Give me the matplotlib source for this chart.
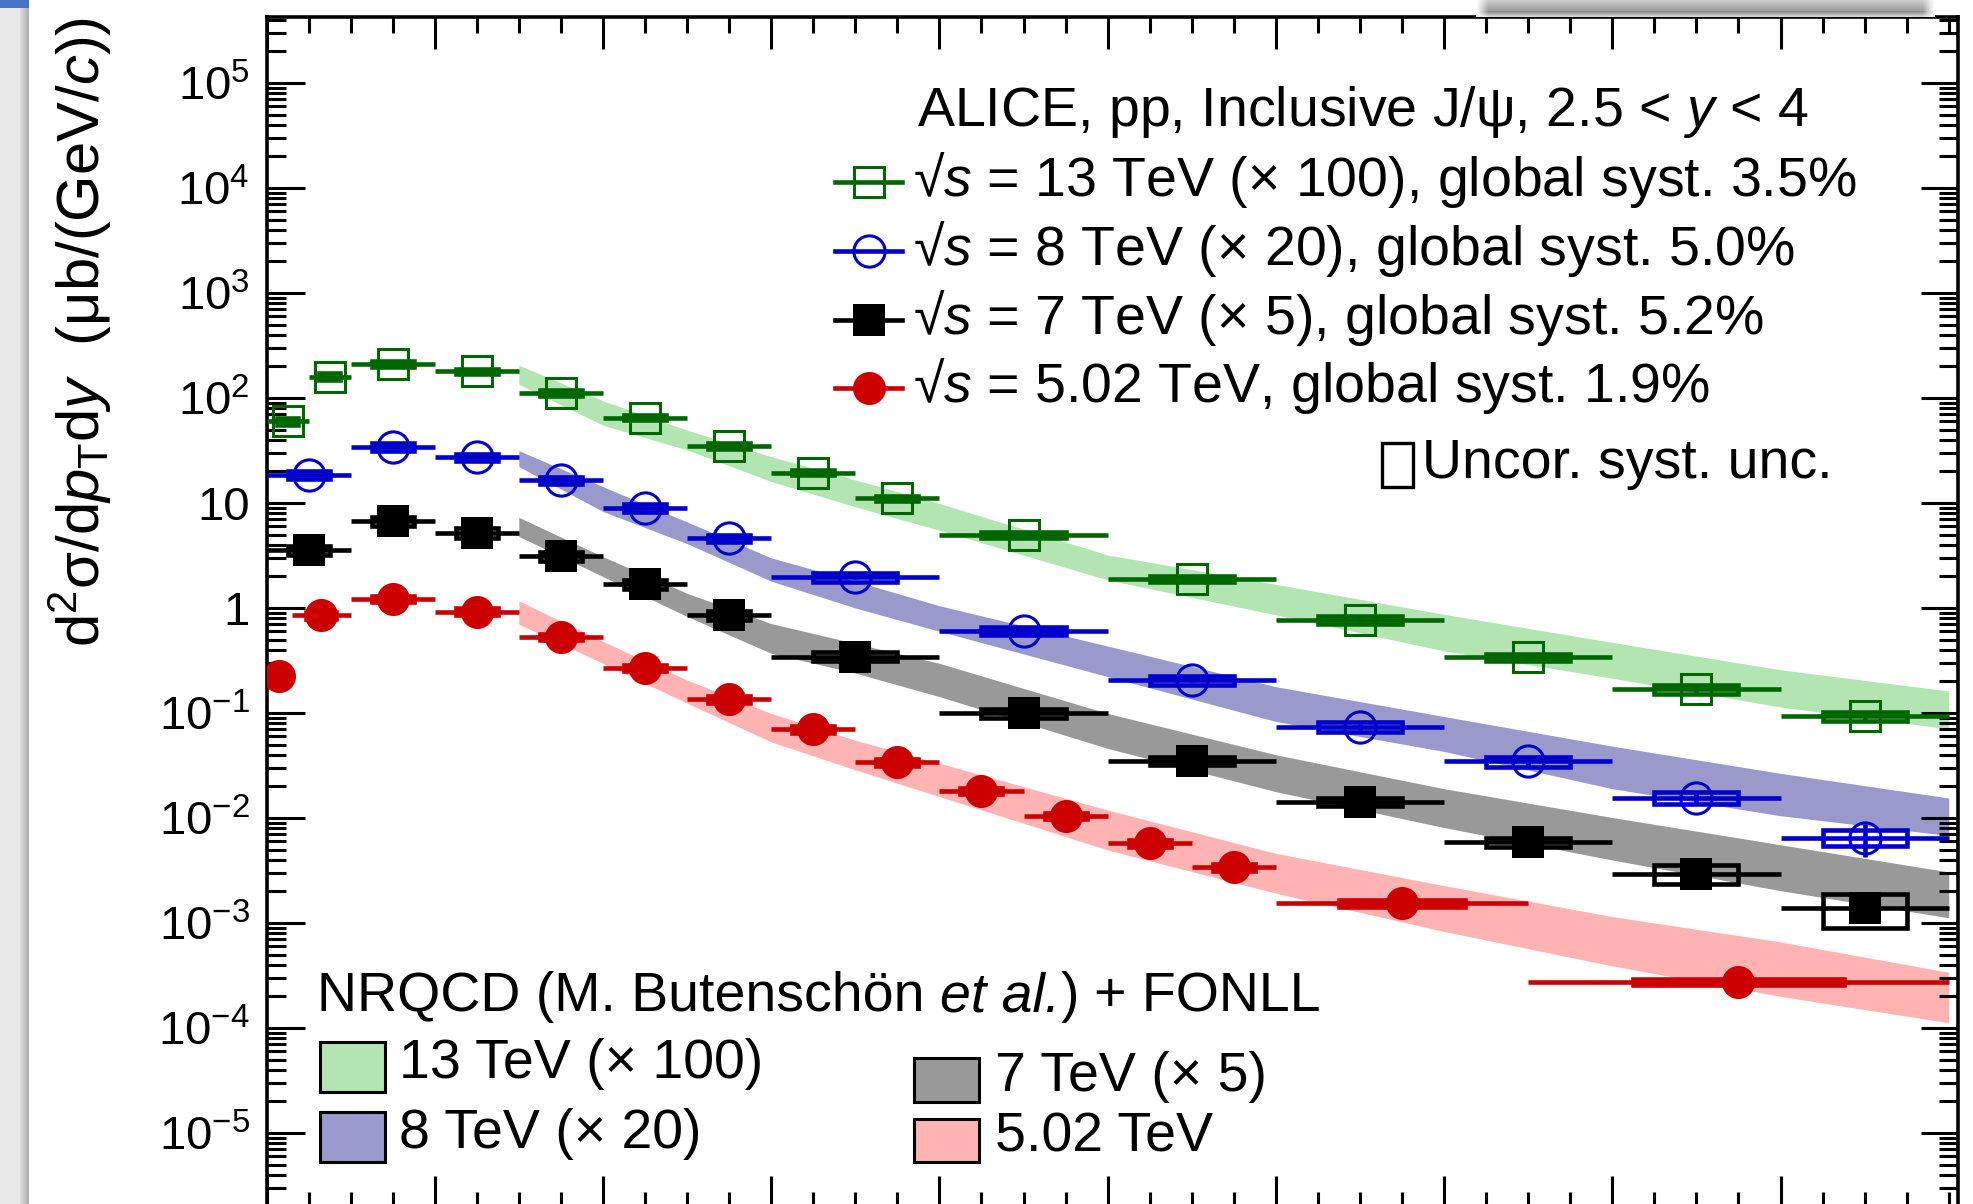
import numpy as np
import matplotlib
matplotlib.use("Agg")
import matplotlib.pyplot as plt
from matplotlib.lines import Line2D
from matplotlib.patches import Rectangle
from matplotlib.ticker import FixedLocator, FuncFormatter, LogLocator, NullFormatter

plt.rcParams['font.family'] = ['Liberation Sans', 'DejaVu Sans']
plt.rcParams['mathtext.fontset'] = 'custom'
plt.rcParams['mathtext.rm'] = 'Liberation Sans'
plt.rcParams['mathtext.it'] = 'Liberation Sans:italic'
plt.rcParams['mathtext.bf'] = 'Liberation Sans:bold'
plt.rcParams['mathtext.fallback'] = 'stixsans'

W, H = 1973, 1204

# 13 TeV (x100)
pt13_lo = [0, 0.5, 1, 2, 3, 4, 5, 6, 7, 8, 10, 12, 14, 16, 18]
pt13_hi = [0.5, 1, 2, 3, 4, 5, 6, 7, 8, 10, 12, 14, 16, 18, 20]
xs13 = [60, 160, 210, 180, 112, 65, 35, 19.5, 11.1, 4.95, 1.89, 0.77, 0.34, 0.168, 0.093]
syst13 = [0.07, 0.07, 0.06, 0.06, 0.06, 0.05, 0.06, 0.06, 0.06, 0.07, 0.07, 0.08, 0.08, 0.09, 0.09]
stat13 = [0.02, 0.02, 0.01, 0.01, 0.01, 0.01, 0.02, 0.02, 0.02, 0.03, 0.04, 0.05, 0.06, 0.07, 0.08]

# 8 TeV (x20)
pt8_lo = [0, 1, 2, 3, 4, 5, 6, 8, 10, 12, 14, 16, 18]
pt8_hi = [1, 2, 3, 4, 5, 6, 8, 10, 12, 14, 16, 18, 20]
xs8 = [18.6, 34.4, 27.2, 16.5, 9.0, 4.61, 1.96, 0.604, 0.206, 0.074, 0.0345, 0.0156, 0.0065]
syst8 = [0.09, 0.09, 0.08, 0.08, 0.08, 0.08, 0.09, 0.09, 0.10, 0.11, 0.11, 0.13, 0.17]
stat8 = [0.02, 0.01, 0.01, 0.01, 0.02, 0.02, 0.03, 0.04, 0.05, 0.07, 0.09, 0.12, 0.35]

# 7 TeV (x5)
pt7_lo = [0, 1, 2, 3, 4, 5, 6, 8, 10, 12, 14, 16, 18]
pt7_hi = [1, 2, 3, 4, 5, 6, 8, 10, 12, 14, 16, 18, 20]
xs7 = [3.57, 6.71, 5.21, 3.1, 1.68, 0.857, 0.344, 0.0993, 0.0349, 0.0143, 0.0059, 0.00295, 0.0014]
syst7 = [0.10, 0.10, 0.10, 0.10, 0.10, 0.10, 0.10, 0.09, 0.09, 0.09, 0.10, 0.20, 0.36]
stat7 = [0.03, 0.02, 0.02, 0.02, 0.03, 0.04, 0.05, 0.08, 0.10, 0.12, 0.15, 0.20, 0.25]

# 5.02 TeV
pt5_lo = [0, 0.3, 1, 2, 3, 4, 5, 6, 7, 8, 9, 10, 11, 12, 15]
pt5_hi = [0.3, 1, 2, 3, 4, 5, 6, 7, 8, 9, 10, 11, 12, 15, 20]
xs5 = [0.225, 0.849, 1.22, 0.925, 0.533, 0.27, 0.135, 0.07, 0.0339, 0.0181, 0.0105,
       0.00574, 0.00339, 0.00154, 0.000275]
syst5 = [0.07, 0.07, 0.07, 0.07, 0.07, 0.07, 0.07, 0.07, 0.07, 0.07, 0.07, 0.07, 0.07, 0.07, 0.06]
stat5 = [0.03, 0.01, 0.01, 0.01, 0.01, 0.01, 0.02, 0.02, 0.03, 0.04, 0.05, 0.06, 0.08, 0.08, 0.12]

# NRQCD + FONLL bands
band_pt = [3, 4, 5, 6, 7, 8, 10, 12, 14, 16, 18, 20]
band13_hi = [206, 94, 49.5, 27.6, 16.6, 9.9, 3.2, 1.68, 0.87, 0.47, 0.258, 0.162]
band13_lo = [135, 55, 32, 16, 9.2, 5.5, 1.85, 0.86, 0.39, 0.214, 0.114, 0.0705]
band8_hi = [31.5, 14.3, 6.6, 3.0, 1.8, 1.05, 0.434, 0.178, 0.0925, 0.0483, 0.0266, 0.0155]
band8_lo = [22.2, 8.3, 4.1, 1.8, 1.0, 0.6, 0.222, 0.083, 0.043, 0.019, 0.0105, 0.0068]
band7_hi = [7.3, 3.08, 1.38, 0.71, 0.46, 0.297, 0.099, 0.04, 0.019, 0.0101, 0.00556, 0.00306]
band7_lo = [4.8, 1.99, 0.83, 0.37, 0.24, 0.143, 0.046, 0.0178, 0.0081, 0.00398, 0.00203, 0.00112]
band5_hi = [1.17, 0.48, 0.206, 0.099, 0.055, 0.0332, 0.0119, 0.0046, 0.00227, 0.00115, 0.00066, 0.000339]
band5_lo = [0.70, 0.297, 0.124, 0.053, 0.0287, 0.016, 0.00496, 0.00192, 0.00083, 0.00039, 0.0002, 0.000112]

legend_rows = [
    r"√$s$ = 13 TeV (× 100), global syst. 3.5%",
    r"√$s$ = 8 TeV (× 20), global syst. 5.0%",
    r"√$s$ = 7 TeV (× 5), global syst. 5.2%",
    r"√$s$ = 5.02 TeV, global syst. 1.9%",
]
band_labels = ["13 TeV (× 100)", "8 TeV (× 20)", "7 TeV (× 5)", "5.02 TeV"]

GREEN, BLUE, BLACK, RED = '#006600', '#0000cc', '#000000', '#cc0000'
BAND_COLORS = ['#b3e5b3', '#9999cc', '#999999', '#ffb3b3']

series = [
    (pt13_lo, pt13_hi, xs13, syst13, stat13, GREEN, 's', 'none', 22.0),
    (pt8_lo, pt8_hi, xs8, syst8, stat8, BLUE, 'o', 'none', 22.5),
    (pt7_lo, pt7_hi, xs7, syst7, stat7, BLACK, 's', BLACK, 23.5),
    (pt5_lo, pt5_hi, xs5, syst5, stat5, RED, 'o', RED, 23.8),
]
bands = [(band13_lo, band13_hi), (band8_lo, band8_hi), (band7_lo, band7_hi), (band5_lo, band5_hi)]


def fx(px):
    return px / W


def fy(py):
    return 1 - py / H


fig = plt.figure(figsize=(W / 100, H / 100), dpi=100)
ax = fig.add_axes([fx(266.5), fy(1207.5), (1958 - 266.5) / W, (1207.5 - 17) / H])
ax.set_yscale('log')
ax.set_xlim(0, 20.11)
ax.set_ylim(1.95e-6, 4.25e5)

for (lo, hi), col in zip(bands, BAND_COLORS):
    ax.fill_between(band_pt, lo, hi, color=col, lw=0, zorder=1)

LW = 3.3
for lo, hi, y, syst, stat, col, mk, face, ms in series:
    lo = np.array(lo, float)
    hi = np.array(hi, float)
    y = np.array(y, float)
    xc = (lo + hi) / 2
    ax.hlines(y, lo, hi, color=col, lw=LW, zorder=3)
    ax.vlines(xc, y * (1 - np.array(stat)), y * (1 + np.array(stat)), color=col, lw=LW, zorder=3)
    for xi, wi, yi, si in zip(xc, hi - lo, y, syst):
        ax.add_patch(Rectangle((xi - wi / 4, yi * (1 - si)), wi / 2, yi * 2 * si,
                               fill=False, edgecolor=col, lw=LW, zorder=4))
    if face == 'none':
        ax.plot(xc, y, ls='none', marker=mk, ms=ms, mfc='none', mec=col, mew=2.2, zorder=5)
    else:
        ax.plot(xc, y, ls='none', marker=mk, ms=ms, mfc=face, mec=face, mew=0, zorder=5)

# axes styling
for sp in ax.spines.values():
    sp.set_linewidth(2.6)
ax.tick_params(which='both', direction='in', top=True, right=True, width=2.2)
ax.tick_params(axis='y', which='major', length=27, pad=12, labelsize=34)
ax.tick_params(axis='y', which='minor', length=13.5)
ax.tick_params(axis='x', which='major', length=23, labelbottom=False)
ax.tick_params(axis='x', which='minor', length=11.5)
ax.xaxis.set_major_locator(FixedLocator(np.arange(0, 19, 2)))
ax.xaxis.set_minor_locator(FixedLocator([v for v in np.arange(0.5, 20.01, 0.5) if v % 2 or v > 19]))
ax.yaxis.set_major_locator(FixedLocator([10.0 ** k for k in range(-5, 6)]))
ax.yaxis.set_minor_locator(LogLocator(base=10, subs=np.arange(2, 10), numticks=30))
ax.yaxis.set_minor_formatter(NullFormatter())


def ylab(v, pos):
    k = int(round(np.log10(v)))
    if k == 0:
        return '1'
    if k == 1:
        return '10'
    return r'$10^{%d}$' % k


ax.yaxis.set_major_formatter(FuncFormatter(ylab))

fig.text(fx(100), fy(17), r"d$^{2}$σ/d$p_{\mathrm{T}}$d$y$  (μb/(GeV/$c$))", fontsize=43,
         rotation=90, rotation_mode='anchor', ha='right', va='baseline')

# data legend
FS = 40
fig.text(fx(917), fy(126), r"ALICE, pp, Inclusive J/ψ, 2.5 < $y$ < 4", fontsize=FS, va='baseline')
row_y = [182, 251, 320, 388]
for (lo, hi, y, syst, stat, col, mk, face, ms), ry, label in zip(series, row_y, legend_rows):
    fig.add_artist(Line2D([fx(835), fx(902)], [fy(ry), fy(ry)], color=col, lw=LW))
    if face == 'none':
        fig.add_artist(Line2D([fx(869)], [fy(ry)], ls='none', marker=mk, ms=ms, mfc='none',
                              mec=col, mew=2.2))
    else:
        fig.add_artist(Line2D([fx(869)], [fy(ry)], ls='none', marker=mk, ms=ms, mfc=face,
                              mec=face, mew=0))
    fig.text(fx(913), fy(ry + 14), label, fontsize=FS, va='baseline')

fig.add_artist(Rectangle((fx(1382), fy(487)), (1413 - 1382) / W, (487 - 443) / H,
                         transform=fig.transFigure, fill=False, edgecolor='black', lw=2.4))
fig.text(fx(1422), fy(478), "Uncor. syst. unc.", fontsize=FS, va='baseline')

# model legend title, written piece by piece so the italic part sits flush
renderer = fig.canvas.get_renderer()
space = 0.278 * FS * 100 / 72
x_run = 317
for txt, style, gap in [("NRQCD (M. Butenschön", 'normal', space), ("et al.", 'italic', 0),
                        (")", 'normal', space), ("+ FONLL", 'normal', 0)]:
    t = fig.text(fx(x_run), fy(1011), txt, fontsize=FS, style=style, va='baseline')
    x_run += t.get_window_extent(renderer).width + gap

patch_boxes = [(320, 1042, 1092, 399, 1078), (320, 1112, 1162, 399, 1148),
               (914, 1058, 1102, 995, 1091), (914, 1119, 1162, 995, 1151)]
for (px, top, bot, tx, ty), col, label in zip(patch_boxes, BAND_COLORS, band_labels):
    fig.add_artist(Rectangle((fx(px), fy(bot)), 65 / W, (bot - top) / H, transform=fig.transFigure,
                             facecolor=col, edgecolor='black', lw=2.2))
    fig.text(fx(tx), fy(ty), label, fontsize=FS, va='baseline')

# page edge on the left and window shadow at the top
edge = np.ones((H, 29, 3))
edge[:, :20] = 0.91
edge[:, 20:29] = np.linspace(0.86, 0.68, 9)[None, :, None]
edge[:8, :, :] = [0.27, 0.45, 0.77]
fig.figimage(edge, xo=0, yo=0, zorder=10)

shadow = np.ones((17, 459, 3))
shade = np.concatenate([np.linspace(0.8, 0.62, 11), np.linspace(0.55, 0.85, 6)])
shadow[:] = shade[:, None, None]
fade = np.clip(np.minimum(np.arange(459), np.arange(459)[::-1]) / 12, 0, 1)
shadow = 1 - (1 - shadow) * fade[None, :, None]
fig.figimage(shadow, xo=1476, yo=H - 17, zorder=10)

fig.savefig('out.png', dpi=100)
